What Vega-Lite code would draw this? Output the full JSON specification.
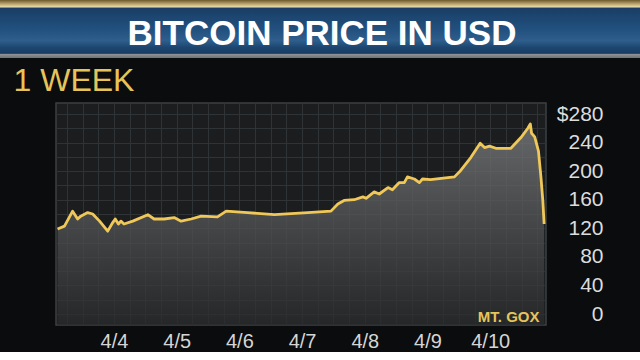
{
  "$schema": "https://vega.github.io/schema/vega-lite/v6.json",
  "background": "#0b0c0d",
  "padding": 0,
  "spacing": 5,
  "vconcat": [
    {
      "width": 640,
      "height": 58,
      "view": {"stroke": null},
      "data": {"values": [{"title": "BITCOIN PRICE IN USD"}]},
      "layer": [
        {
          "mark": {
            "type": "rect",
            "fill": {
              "gradient": "linear", "x1": 0, "y1": 0, "x2": 0, "y2": 1,
              "stops": [
                {"offset": 0, "color": "#6b5a2e"},
                {"offset": 0.08, "color": "#c8b27a"},
                {"offset": 0.12, "color": "#e6dcb0"},
                {"offset": 0.14, "color": "#1a3e66"},
                {"offset": 0.5, "color": "#21507e"},
                {"offset": 0.7, "color": "#2f5e8c"},
                {"offset": 0.82, "color": "#1c4670"},
                {"offset": 0.92, "color": "#183c62"},
                {"offset": 0.935, "color": "#8e9296"},
                {"offset": 1, "color": "#6e7276"}
              ]
            }
          },
          "encoding": {
            "x": {"value": 0}, "x2": {"value": "width"},
            "y": {"value": 0}, "y2": {"value": "height"}
          }
        },
        {
          "mark": {
            "type": "text",
            "font": "Liberation Sans",
            "fontWeight": "bold",
            "fontSize": 35,
            "color": "#ffffff",
            "baseline": "alphabetic",
            "align": "center",
            "dx": 2,
            "dy": 16
          },
          "encoding": {"text": {"field": "title"}}
        }
      ]
    },
    {
      "spacing": 0,
      "hconcat": [
        {
          "width": 1,
          "height": 1,
          "view": {"fill": "#0b0c0d", "stroke": null},
          "data": {"values": []},
          "mark": "rect"
        },
        {
          "width": 490,
          "height": 222,
          "view": {"fill": "#1b1d1e", "stroke": "#3c4043", "strokeWidth": 1.5},
          "data": {
            "values": [
              {"t": 3.10, "price": 119}, {"t": 3.21, "price": 123}, {"t": 3.34, "price": 144},
              {"t": 3.42, "price": 133}, {"t": 3.47, "price": 137}, {"t": 3.58, "price": 142},
              {"t": 3.66, "price": 140}, {"t": 3.77, "price": 130}, {"t": 3.90, "price": 116},
              {"t": 3.98, "price": 128}, {"t": 4.02, "price": 133}, {"t": 4.07, "price": 126},
              {"t": 4.11, "price": 130}, {"t": 4.16, "price": 126}, {"t": 4.30, "price": 130},
              {"t": 4.54, "price": 139}, {"t": 4.64, "price": 133}, {"t": 4.80, "price": 133},
              {"t": 4.96, "price": 135}, {"t": 5.07, "price": 130}, {"t": 5.23, "price": 133},
              {"t": 5.39, "price": 137}, {"t": 5.65, "price": 136}, {"t": 5.79, "price": 144},
              {"t": 6.13, "price": 142}, {"t": 6.56, "price": 139}, {"t": 7.09, "price": 142},
              {"t": 7.46, "price": 144}, {"t": 7.57, "price": 154}, {"t": 7.67, "price": 159},
              {"t": 7.83, "price": 160}, {"t": 7.97, "price": 164}, {"t": 8.02, "price": 162},
              {"t": 8.15, "price": 171}, {"t": 8.23, "price": 168}, {"t": 8.37, "price": 177},
              {"t": 8.44, "price": 174}, {"t": 8.55, "price": 184}, {"t": 8.63, "price": 184},
              {"t": 8.68, "price": 192}, {"t": 8.79, "price": 189}, {"t": 8.87, "price": 184},
              {"t": 8.92, "price": 189}, {"t": 9.05, "price": 188}, {"t": 9.22, "price": 190},
              {"t": 9.43, "price": 192}, {"t": 9.53, "price": 201}, {"t": 9.69, "price": 219},
              {"t": 9.84, "price": 239}, {"t": 9.91, "price": 233}, {"t": 9.99, "price": 235},
              {"t": 10.09, "price": 232}, {"t": 10.33, "price": 232}, {"t": 10.49, "price": 247},
              {"t": 10.60, "price": 260}, {"t": 10.64, "price": 266}, {"t": 10.66, "price": 253},
              {"t": 10.71, "price": 248}, {"t": 10.77, "price": 228}, {"t": 10.81, "price": 191},
              {"t": 10.84, "price": 158}, {"t": 10.86, "price": 126}
            ]
          },
          "resolve": {"axis": {"y": "independent", "x": "independent"}},
          "layer": [
            {
              "mark": {
                "type": "area",
                "fill": {
                  "gradient": "linear", "x1": 0, "y1": 0, "x2": 0, "y2": 1,
                  "stops": [
                    {"offset": 0, "color": "rgba(120,122,124,0.8)"},
                    {"offset": 1, "color": "rgba(40,42,44,0.75)"}
                  ]
                }
              },
              "encoding": {
                "x": {
                  "field": "t", "type": "quantitative",
                  "scale": {"domain": [3.075, 10.89], "nice": false, "zero": false},
                  "axis": {
                    "orient": "bottom",
                    "values": [3.25, 3.5, 3.75, 4, 4.25, 4.5, 4.75, 5, 5.25, 5.5, 5.75, 6, 6.25, 6.5, 6.75, 7, 7.25, 7.5, 7.75, 8, 8.25, 8.5, 8.75, 9, 9.25, 9.5, 9.75, 10, 10.25, 10.5, 10.75],
                    "grid": true, "gridColor": "#303335", "gridWidth": 1,
                    "ticks": false, "domain": false, "labels": false,
                    "title": null, "zindex": 0
                  }
                },
                "y": {
                  "field": "price", "type": "quantitative",
                  "scale": {"domain": [-15.4, 295.4], "nice": false, "zero": false},
                  "axis": {
                    "orient": "right",
                    "values": [0, 20, 40, 60, 80, 100, 120, 140, 160, 180, 200, 220, 240, 260, 280],
                    "labelExpr": "datum.value % 40 == 0 ? (datum.value == 280 ? '$280' : '' + datum.value) : ''",
                    "grid": true, "gridColor": "#303335", "gridWidth": 1,
                    "ticks": false, "domain": false,
                    "labelAlign": "right", "labelBaseline": "middle", "labelPadding": 57,
                    "labelFont": "Liberation Sans", "labelFontSize": 21, "labelColor": "#dcdcdc",
                    "labelOverlap": false, "labelFlush": false,
                    "title": null, "zindex": 0
                  }
                },
                "y2": {"datum": -15.4}
              }
            },
            {
              "mark": {"type": "line", "color": "#f0c85a", "strokeWidth": 2.8, "strokeJoin": "round"},
              "encoding": {
                "x": {
                  "field": "t", "type": "quantitative",
                  "axis": {
                    "orient": "bottom",
                    "values": [4, 5, 6, 7, 8, 9, 10],
                    "labelExpr": "'4/' + datum.value",
                    "grid": false, "ticks": false, "domain": false,
                    "labelFont": "Liberation Sans", "labelFontSize": 20, "labelColor": "#d5d5d5",
                    "labelPadding": 6, "labelOverlap": false, "labelFlush": false,
                    "title": "MT. GOX", "titleX": 483, "titleY": -4,
                    "titleAlign": "right", "titleBaseline": "alphabetic",
                    "titleFont": "Liberation Sans", "titleFontSize": 15, "titleFontWeight": "bold",
                    "titleColor": "#e6c45a", "zindex": 1
                  }
                },
                "y": {
                  "field": "price", "type": "quantitative",
                  "axis": {
                    "orient": "left",
                    "offset": 54,
                    "domain": true, "domainColor": "transparent",
                    "ticks": false, "labels": false, "grid": false,
                    "title": "1 WEEK", "titleAngle": 0, "titleX": 11, "titleY": -13,
                    "titleAlign": "left", "titleBaseline": "alphabetic",
                    "titleFont": "Liberation Sans", "titleFontSize": 32, "titleFontWeight": "normal",
                    "titleColor": "#e6c45a"
                  }
                }
              }
            }
          ]
        }
      ]
    }
  ]
}
